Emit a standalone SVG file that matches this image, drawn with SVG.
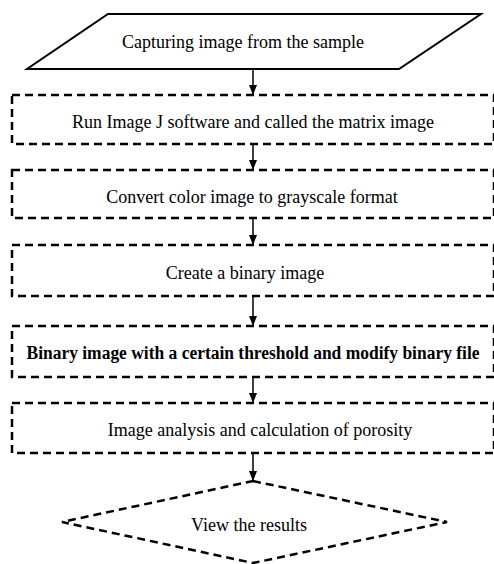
<svg xmlns="http://www.w3.org/2000/svg" width="494" height="564" viewBox="0 0 494 564">
<style>
.box{fill:#fff;stroke:#000;stroke-width:2.5;stroke-dasharray:8 5}
text{font-family:'Liberation Serif','DejaVu Serif','Times New Roman',serif;font-size:18px;fill:#000;text-anchor:middle}
.c{stroke:#000;stroke-width:1.5;fill:none}
</style>
<defs>
<marker id="ah" markerWidth="10" markerHeight="12" refX="10" refY="4" orient="auto" markerUnits="userSpaceOnUse">
<path d="M0,0 L10,4 L0,8 Z" fill="#000"/>
</marker>
</defs>
<rect width="494" height="564" fill="#fff"/>
<g id="connectors">
<line class="c" x1="253" y1="70" x2="253" y2="95" marker-end="url(#ah)"/>
<line class="c" x1="253" y1="145" x2="253" y2="170" marker-end="url(#ah)"/>
<line class="c" x1="253" y1="219" x2="253" y2="245" marker-end="url(#ah)"/>
<line class="c" x1="253" y1="297" x2="253" y2="326" marker-end="url(#ah)"/>
<line class="c" x1="253" y1="378" x2="253" y2="403" marker-end="url(#ah)"/>
<line class="c" x1="253" y1="454" x2="253" y2="481" marker-end="url(#ah)"/>
</g>
<g id="n0">
<polygon points="108,14 481,14 399,69 27,69" fill="#fff" stroke="#000" stroke-width="2"/>
<text x="243" y="48" font-size="19">Capturing image from the sample</text>
</g>
<g id="n1">
<rect class="box" x="12" y="95" width="482" height="49"/>
<text x="253" y="128">Run Image J software and called the matrix image</text>
</g>
<g id="n2">
<rect class="box" x="12" y="170" width="482" height="48"/>
<text x="252" y="203">Convert color image to grayscale format</text>
</g>
<g id="n3">
<rect class="box" x="12" y="245" width="482" height="51"/>
<text x="245" y="279">Create a binary image</text>
</g>
<g id="n4">
<rect class="box" x="12" y="326" width="482" height="51"/>
<text x="253" y="359" font-weight="bold" textLength="453" lengthAdjust="spacingAndGlyphs">Binary image with a certain threshold and modify binary file</text>
</g>
<g id="n5">
<rect class="box" x="12" y="403" width="482" height="50"/>
<text x="260" y="436">Image analysis and calculation of porosity</text>
</g>
<g id="n6">
<polygon class="box" points="253,481 447,522 253,563 62,522"/>
<text x="249" y="531">View the results</text>
</g>
</svg>
